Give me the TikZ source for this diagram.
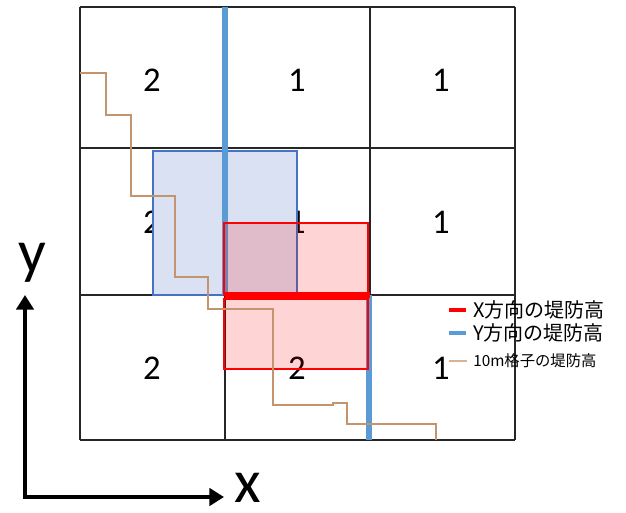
\documentclass[tikz,border=0pt]{standalone}
\usepackage{fontspec}
\setmainfont{Carlito}
\newfontfamily\jpfont{Noto Sans CJK JP}
\usetikzlibrary{arrows.meta}
\definecolor{ybl}{HTML}{5B9BD5}
\definecolor{rbd}{HTML}{4472C4}
\definecolor{rfl}{HTML}{DAE1F3}
\definecolor{brn}{RGB}{196,148,110}
\tikzset{
  gridline/.style={draw=black!85, line width=1.1pt},
  num/.style={font=\fontsize{26}{28}\selectfont, inner sep=0pt},
  ybar/.style={draw=ybl, line width=5pt},
  xbar/.style={draw=red, line width=5pt},
  bluebox/.style={draw=rbd, line width=1pt, fill=rfl},
  redbox/.style={draw=red, line width=1pt, fill=red, fill opacity=0.17},
  stair/.style={draw=brn, line width=0.9pt},
  axis/.style={draw=black, line width=3.6pt, -{Triangle[length=11pt,width=13pt]}},
  axlabel/.style={font=\fontsize{46}{48}\selectfont, inner sep=0pt},
  legtext/.style={font=\jpfont\fontsize{15}{17}\selectfont, anchor=west, inner sep=0pt},
  legsmall/.style={font=\jpfont\fontsize{11.5}{13}\selectfont, anchor=west, inner sep=0pt}
}
\begin{document}
\begin{tikzpicture}[x=0.75pt,y=-0.75pt]
\useasboundingbox (0,0) rectangle (626,512);
% grid
\foreach \gx in {80,225,370,515} \draw[gridline] (\gx,7) -- (\gx,440);
\foreach \gy in {7,148,295,440} \draw[gridline] (80,\gy) -- (515,\gy);
% numbers
\node[num] (c11) at (152,80) {2};
\node[num] (c12) at (297,80) {1};
\node[num] (c13) at (441,80) {1};
\node[num] (c21) at (152,222) {2};
\node[num] (c22) at (297,222) {1};
\node[num] (c23) at (441,222) {1};
\node[num] (c31) at (152,368) {2};
\node[num] (c32) at (297,368) {2};
\node[num] (c33) at (441,368) {1};
% blue box
\draw[bluebox] (153,151) rectangle (297,295);
% Y bars
\draw[ybar] (225,7) -- (225,295);
\draw[ybar] (369,295) -- (369,440);
% red boxes
\draw[redbox] (224,223) rectangle (368,295);
\draw[redbox] (224,299) rectangle (368,369);
% X bar
\draw[xbar] (225,295) -- (370,295);
% staircase
\draw[stair] (80,73) -- (106,73) -- (106,115) -- (131,115) -- (131,196) -- (175,196)
  -- (175,277) -- (208,277) -- (208,309) -- (273,309) -- (273,405) -- (333,405)
  -- (333,403) -- (347,403) -- (347,424) -- (436,424) -- (436,440);
% axes
\coordinate (o) at (25,497);
\coordinate (ytip) at (25,295);
\coordinate (xtip) at (224,497);
\draw[axis] (o) -- (ytip);
\draw[axis] ([xshift=-1.8pt]o) -- (xtip);
\node[axlabel] (ylab) at (32,263) {y};
\node[axlabel, anchor=base] (xlab) at (248,502) {x};
% legend
\coordinate (l1a) at (449,310); \coordinate (l1b) at (466,310);
\coordinate (l2a) at (449,333); \coordinate (l2b) at (466,333);
\coordinate (l3a) at (449,361); \coordinate (l3b) at (467,361);
\draw[red, line width=3.5pt] (l1a) -- (l1b);
\draw[ybl, line width=3.5pt] (l2a) -- (l2b);
\draw[brn!70, line width=1pt] (l3a) -- (l3b);
\node[legtext] (lg1) at (473,310) {X方向の堤防高};
\node[legtext] (lg2) at (473,333) {Y方向の堤防高};
\node[legsmall] (lg3) at (473,361) {10m格子の堤防高};
\end{tikzpicture}
\end{document}
